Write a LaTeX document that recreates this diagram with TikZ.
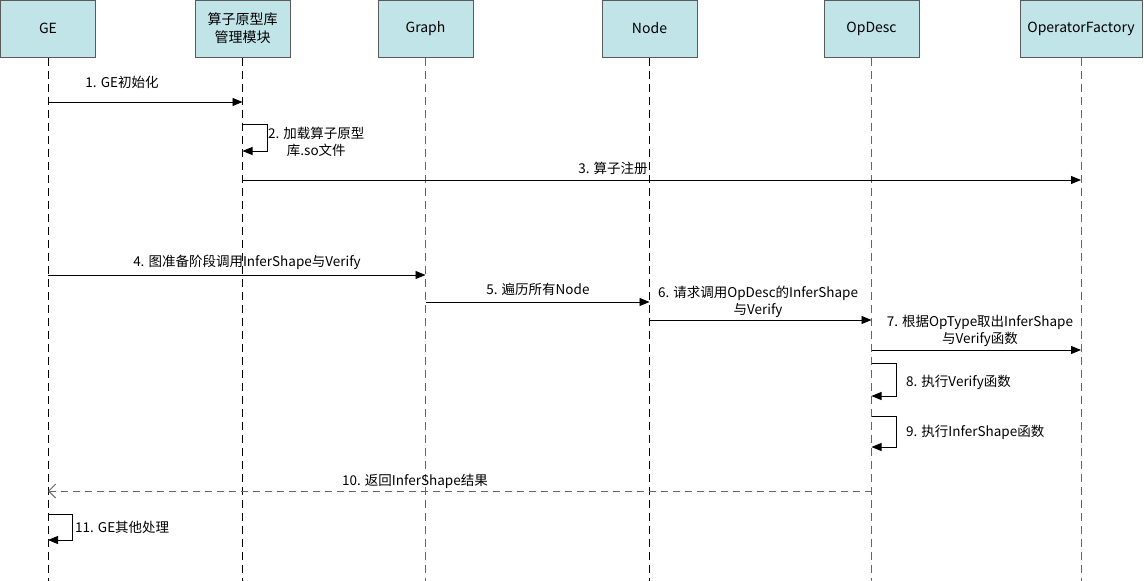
\documentclass[tikz,border=0pt]{standalone}
\usepackage{fontspec}
\setmainfont{Noto Sans CJK SC}
\usetikzlibrary{arrows.meta}
\definecolor{boxfill}{HTML}{C1E4E8}
\definecolor{boxline}{HTML}{5A5A5A}
\begin{document}
\begin{tikzpicture}[x=1pt,y=-1pt,
 actor/.style={draw=boxline, fill=boxfill, minimum width=95pt, minimum height=57pt, font=\fontsize{14}{18}\selectfont, align=center, inner sep=0pt, line width=1pt},
 life/.style={dash pattern=on 8pt off 5pt, line width=1pt},
 msg/.style={-{Triangle[length=10pt,width=8pt]}, line width=0.9pt},
 ret/.style={-{Straight Barb[length=7pt,width=14pt]}, dash pattern=on 7pt off 5pt, draw=black!60, line width=0.9pt},
 lbl/.style={font=\fontsize{13.5}{17}\selectfont, align=center, inner sep=0pt}
]
\useasboundingbox (0,0) rectangle (1144,581);
% actors
\node[actor] (ge) at (48,28.5) {GE};
\node[actor] (lib) at (242.5,28.5) {算子原型库\\管理模块};
\node[actor] (graph) at (425.5,28.5) {Graph};
\node[actor] (node) at (649.5,28.5) {Node};
\node[actor] (opdesc) at (871.5,28.5) {OpDesc};
\node[actor, minimum width=122pt] (fact) at (1081,28.5) {OperatorFactory};
% lifelines
\draw[life] (ge.south) -- (ge.south |- 0,581);
\draw[life] (lib.south) -- (lib.south |- 0,581);
\draw[life, draw=black!60] (graph.south) -- (graph.south |- 0,581);
\draw[life] (node.south) -- (node.south |- 0,581);
\draw[life, draw=black!60] (opdesc.south) -- (opdesc.south |- 0,581);
\draw[life, draw=black!60] (fact.south) -- (fact.south |- 0,581);
% 1
\draw[msg] (ge |- 0,102) -- (lib |- 0,102);
\node[lbl] (l1) at (122,82) {1. GE初始化};
% 2
\draw[msg] (lib |- 0,124) -- ++(25,0) -- ++(0,27) -- (lib |- 0,151);
\node[lbl, anchor=west] (l2) at (268,142) {2. 加载算子原型\\库.so文件};
% 3
\draw[msg] (lib |- 0,180) -- (fact |- 0,180);
\node[lbl] (l3) at (613,168) {3. 算子注册};
% 4
\draw[msg] (ge |- 0,275) -- (graph |- 0,275);
\node[lbl] (l4) at (247,262) {4. 图准备阶段调用InferShape与Verify};
% 5
\draw[msg] (graph |- 0,302) -- (node |- 0,302);
\node[lbl] (l5) at (538,289) {5. 遍历所有Node};
% 6
\draw[msg] (node |- 0,320) -- (opdesc |- 0,320);
\node[lbl] (l6) at (758,301.5) {6. 请求调用OpDesc的InferShape\\与Verify};
% 7
\draw[msg] (opdesc |- 0,350) -- (fact |- 0,350);
\node[lbl] (l7) at (980,330.5) {7. 根据OpType取出InferShape\\与Verify函数};
% 8
\draw[msg] (opdesc |- 0,363) -- ++(25,0) -- ++(0,33) -- (opdesc |- 0,396);
\node[lbl, anchor=west] (l8) at (906,382) {8. 执行Verify函数};
% 9
\draw[msg] (opdesc |- 0,416) -- ++(25,0) -- ++(0,31) -- (opdesc |- 0,447);
\node[lbl, anchor=west] (l9) at (906,432) {9. 执行InferShape函数};
% 10
\draw[ret] (opdesc |- 0,491) -- (ge |- 0,491);
\node[lbl] (l10) at (415,481) {10. 返回InferShape结果};
% 11
\draw[msg] (ge |- 0,514) -- ++(24,0) -- ++(0,26) -- (ge |- 0,540);
\node[lbl, anchor=west] (l11) at (75,527) {11. GE其他处理};
\end{tikzpicture}
\end{document}
